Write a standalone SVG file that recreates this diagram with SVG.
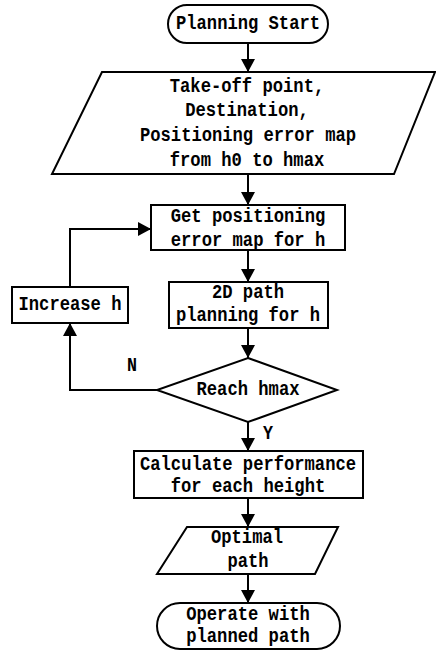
<svg xmlns="http://www.w3.org/2000/svg" width="436" height="651" viewBox="0 0 436 651">
<defs>
<marker id="ah" markerUnits="userSpaceOnUse" markerWidth="14" markerHeight="14" refX="13" refY="7" orient="auto">
<path d="M0,0 L13,7 L0,14 z" fill="#000"/>
</marker>
<style>
.s{fill:#fff;stroke:#000;stroke-width:2}
.c{fill:none;stroke:#000;stroke-width:2;marker-end:url(#ah)}
text{font-family:"Liberation Mono","DejaVu Sans Mono",monospace;font-size:20px;font-weight:bold;fill:#000;text-anchor:middle}
</style>
</defs>
<rect width="436" height="651" fill="#fff"/>
<g id="connectors">
<line class="c" x1="248" y1="43" x2="248" y2="72"/>
<line class="c" x1="248" y1="174" x2="248" y2="205"/>
<line class="c" x1="248" y1="250" x2="248" y2="282"/>
<line class="c" x1="248" y1="328" x2="248" y2="358"/>
<line class="c" x1="248" y1="422" x2="248" y2="451"/>
<line class="c" x1="248" y1="498" x2="248" y2="527"/>
<line class="c" x1="248" y1="574" x2="248" y2="603"/>
<polyline class="c" points="157,390 70,390 70,323"/>
<polyline class="c" points="70,287 70,229 151,229"/>
<text x="132" y="371" textLength="10" lengthAdjust="spacingAndGlyphs">N</text>
<text x="268" y="439" textLength="10" lengthAdjust="spacingAndGlyphs">Y</text>
</g>
<g id="start">
<rect class="s" x="168" y="5" width="160" height="38" rx="19"/>
<text x="248" y="29" textLength="144" lengthAdjust="spacingAndGlyphs">Planning Start</text>
</g>
<g id="input">
<polygon class="s" points="102,72 435,72 394,174 52,174"/>
<text x="247" y="92" textLength="154.5" lengthAdjust="spacingAndGlyphs">Take-off point,</text>
<text x="247" y="116" textLength="123.6" lengthAdjust="spacingAndGlyphs">Destination,</text>
<text x="248" y="141" textLength="216" lengthAdjust="spacingAndGlyphs">Positioning error map</text>
<text x="247" y="166" textLength="154.5" lengthAdjust="spacingAndGlyphs">from h0 to hmax</text>
</g>
<g id="getmap">
<rect class="s" x="151" y="205" width="194" height="45"/>
<text x="248" y="222" textLength="154.5" lengthAdjust="spacingAndGlyphs">Get positioning</text>
<text x="248" y="246" textLength="154.5" lengthAdjust="spacingAndGlyphs">error map for h</text>
</g>
<g id="plan2d">
<rect class="s" x="169" y="282" width="159" height="46"/>
<text x="248" y="298" textLength="72" lengthAdjust="spacingAndGlyphs">2D path</text>
<text x="248" y="321" textLength="144" lengthAdjust="spacingAndGlyphs">planning for h</text>
</g>
<g id="increase">
<rect class="s" x="12" y="287" width="116" height="36"/>
<text x="70" y="310" textLength="103" lengthAdjust="spacingAndGlyphs">Increase h</text>
</g>
<g id="decision">
<polygon class="s" points="248,358 337,390 248,422 157,390"/>
<text x="248" y="395" textLength="103" lengthAdjust="spacingAndGlyphs">Reach hmax</text>
</g>
<g id="calc">
<rect class="s" x="134" y="451" width="229" height="47"/>
<text x="248" y="470" textLength="216" lengthAdjust="spacingAndGlyphs">Calculate performance</text>
<text x="248" y="492" textLength="154.5" lengthAdjust="spacingAndGlyphs">for each height</text>
</g>
<g id="optimal">
<polygon class="s" points="187,527 338,527 315,574 157,574"/>
<text x="247" y="543" textLength="72" lengthAdjust="spacingAndGlyphs">Optimal</text>
<text x="248" y="567" textLength="41" lengthAdjust="spacingAndGlyphs">path</text>
</g>
<g id="operate">
<rect class="s" x="157" y="603" width="183" height="46" rx="23"/>
<text x="248" y="620" textLength="123.6" lengthAdjust="spacingAndGlyphs">Operate with</text>
<text x="248" y="642" textLength="123.6" lengthAdjust="spacingAndGlyphs">planned path</text>
</g>
</svg>
